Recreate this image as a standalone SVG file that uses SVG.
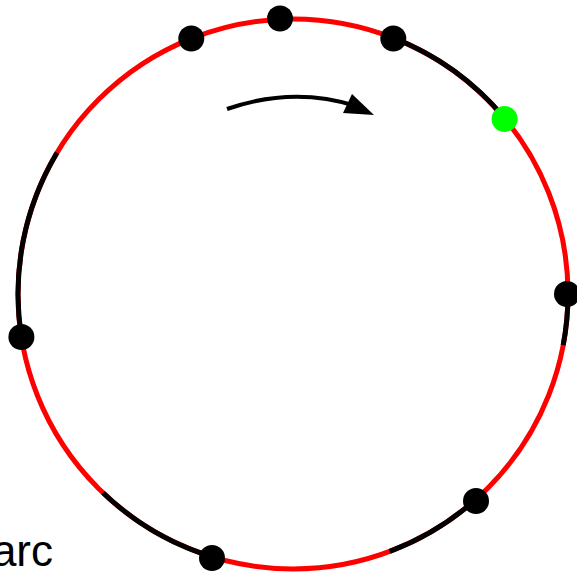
<svg xmlns="http://www.w3.org/2000/svg" width="577" height="576" viewBox="0 0 577 576">
<style>
.red{fill:none;stroke:#ff0000;stroke-width:5}
.blk{fill:none;stroke:#000;stroke-width:5}
.dot{fill:#000}
.lbl{font-family:"Liberation Sans",Arial,sans-serif;font-size:44px;fill:#000}
</style>
<rect width="577" height="576" fill="#fff"/>
<g id="connectors">
<circle class="red" cx="293" cy="294" r="275"/>
<path class="blk" d="M393.3,37.9 A275,275 0 0 1 504.6,118.3"/>
<path class="blk" d="M568,294 A275,275 0 0 1 563.2,345.1"/>
<path class="blk" d="M475.2,500 A275,275 0 0 1 389.7,551.4"/>
<path class="blk" d="M212.1,556.8 A275,275 0 0 1 103,492.8"/>
<path class="blk" d="M21.4,337 A275,275 0 0 1 57,152.8"/>
<path d="M227,109 Q293,86 356,106" fill="none" stroke="#000" stroke-width="4"/>
<polygon points="352,94 374,115 343,113" fill="#000"/>
</g>
<g id="n1"><circle class="dot" cx="191.3" cy="38.5" r="13"/></g>
<g id="n2"><circle class="dot" cx="280" cy="18.5" r="13"/></g>
<g id="n3"><circle class="dot" cx="393.3" cy="38.5" r="13"/></g>
<g id="n4"><circle cx="504.6" cy="119" r="13" fill="#00ff00"/></g>
<g id="n5"><circle class="dot" cx="567" cy="294" r="13"/></g>
<g id="n6"><circle class="dot" cx="476" cy="501" r="13"/></g>
<g id="n7"><circle class="dot" cx="212" cy="558" r="13"/></g>
<g id="n8"><circle class="dot" cx="21.4" cy="337" r="13"/></g>
<g id="label"><text class="lbl" x="53" y="566" text-anchor="end">arc</text></g>
</svg>
